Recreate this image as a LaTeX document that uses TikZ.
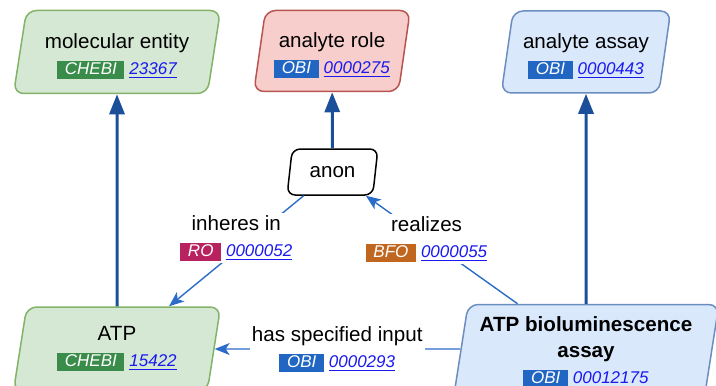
\documentclass[tikz,border=0pt]{standalone}
\usepackage{fontspec}
\setmainfont{Liberation Sans}
\usepackage{xcolor}
\usepackage{tikz}
\usetikzlibrary{positioning, shapes.geometric, arrows.meta}

\definecolor{greenfill}{HTML}{D5E8D4}
\definecolor{greenline}{HTML}{82B366}
\definecolor{redfill}{HTML}{F8CECC}
\definecolor{redline}{HTML}{B85450}
\definecolor{bluefill}{HTML}{DAE8FC}
\definecolor{blueline}{HTML}{6C8EBF}
\definecolor{chebi}{HTML}{3A8C4A}
\definecolor{obi}{HTML}{2166C2}
\definecolor{ro}{HTML}{B8225E}
\definecolor{bfo}{HTML}{C0661F}
\definecolor{linkblue}{HTML}{1A1AEE}
\definecolor{isablue}{HTML}{1B4F9A}
\definecolor{relblue}{HTML}{2B6CC9}

% prefix badge + underlined id
\newcommand{\ontoref}[3]{{\fontsize{8.5}{10}\selectfont\setlength{\fboxsep}{0pt}%
  \colorbox{#1}{\rule[-2.2pt]{0pt}{9pt}\hspace{3.8pt}\textcolor{white}{\itshape #2}\hspace{3.8pt}}%
  \hspace{2.5pt}\textcolor{linkblue}{\itshape\underline{#3}}}}
% pushes the text of a top box a little down
\newcommand{\toplift}{\rule{0pt}{11.5pt}}

\begin{document}
\begin{tikzpicture}[x=0.5pt, y=-0.5pt,
    term/.style = {trapezium, trapezium left angle=80, trapezium right angle=100,
                   trapezium stretches=true, rounded corners=5pt, line width=0.75pt,
                   align=center, inner sep=2pt, font=\fontsize{10.3}{13}\selectfont},
    chebibox/.style = {term, draw=greenline, fill=greenfill},
    rolebox/.style = {term, draw=redline, fill=redfill},
    assaybox/.style = {term, draw=blueline, fill=bluefill},
    anonbox/.style = {term, draw=black, fill=white, rounded corners=4pt}
    ]
            % styles
            \tikzstyle{isa} = [line width=1.5pt,-{Triangle[length=10pt,width=7.5pt]},draw=isablue]
            \tikzstyle{rel} = [line width=0.7pt,-{Stealth[length=7.5pt,width=6pt,inset=2pt]},draw=relblue]
            \tikzstyle{lbl} = [fill=white, inner sep=1pt, align=center, font=\fontsize{10.3}{13}\selectfont]

            \useasboundingbox (0,0) rectangle (716,385);

            \node (mol) [chebibox, minimum width=103.5pt, minimum height=41.5pt] at (117,52)
                {\toplift molecular entity\\ \ontoref{chebi}{CHEBI}{23367}};
            \node (role) [rolebox, minimum width=78.5pt, minimum height=40.5pt] at (332,51)
                {\toplift analyte role\\ \ontoref{obi}{OBI}{0000275}};
            \node (assay) [assaybox, minimum width=85pt, minimum height=41pt] at (586,52)
                {\toplift analyte assay\\ \ontoref{obi}{OBI}{0000443}};
            \node (anon) [anonbox, minimum width=45.5pt, minimum height=23pt] at (332.5,172) {anon};

            \node (atp) [chebibox, minimum width=103.5pt, minimum height=42pt, below=106pt of mol]
                {ATP\\ \ontoref{chebi}{CHEBI}{15422}};
            \node (atpbio) [assaybox, minimum width=133pt, minimum height=48pt, below=105pt of assay]
                {\textbf{ATP bioluminescence}\\ \textbf{assay}\\ \ontoref{obi}{OBI}{00012175}};

            \draw [isa] (atp) -- (mol);
            \draw [isa] (anon) -- (role);
            \draw [isa] (atpbio) -- (assay);
            \draw [rel] (anon) -- (atp) node[lbl, pos=0.5, yshift=6.5pt]
                {inheres in\\ \ontoref{ro}{RO}{0000052}};
            \draw [rel] (atpbio) -- (anon) node[lbl, pos=0.6]
                {realizes\\ \ontoref{bfo}{BFO}{0000055}};
            \draw [rel] (atpbio.west |- atp) -- (atp) node[lbl, midway]
                {has specified input\\ \ontoref{obi}{OBI}{0000293}};
    \end{tikzpicture}
\end{document}
